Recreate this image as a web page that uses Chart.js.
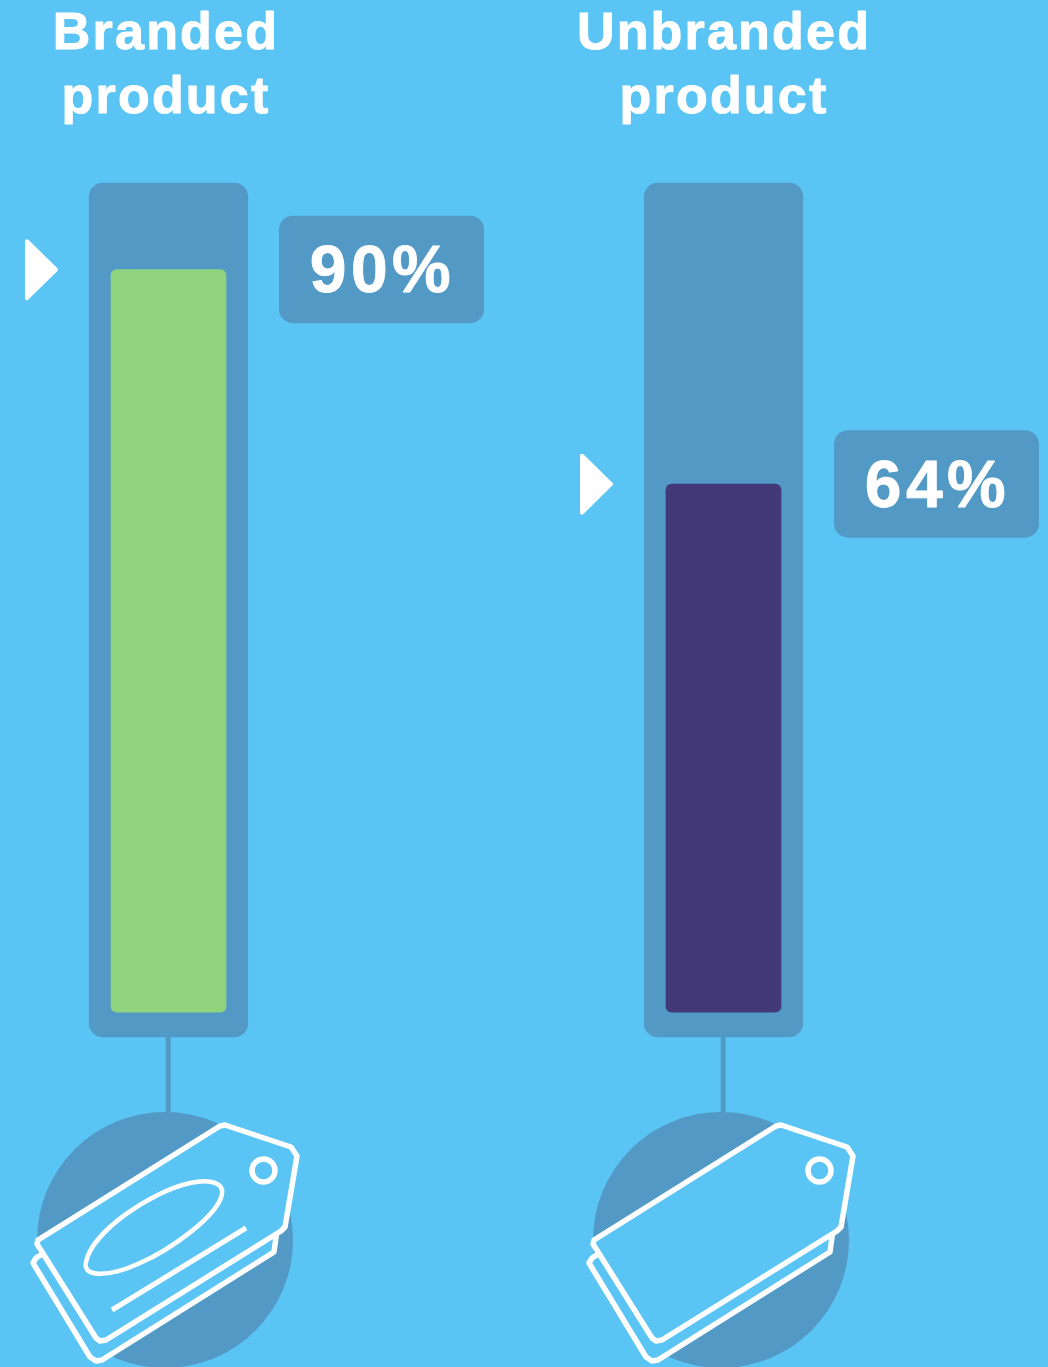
<!DOCTYPE html>
<html>
<head>
<meta charset="utf-8">
<title>Branded vs unbranded product</title>
<script src="https://cdn.jsdelivr.net/npm/chart.js@4/dist/chart.umd.min.js"></script>
<style>
  html, body { margin: 0; padding: 0; background: #5ac4f4; }
  canvas { display: block; }
</style>
</head>
<body>
<canvas id="chart-products" width="1048" height="1367"></canvas>
<script>
const labels = [['Branded', 'product'], ['Unbranded', 'product']];
const shares = [90, 64];
const trackRange = [-3, 100.5];
const barColors = ['#90d37f', '#433878'];

const background = '#5ac4f4';
const muted = '#529ac5';
const white = '#ffffff';
const font = '"Liberation Sans", Arial, sans-serif';

// offset of the right-hand column's icon from the left-hand one
const iconShift = [0, 556];
const titleNudge = [-2.5, 0.5];

function roundedBox(ctx, x, y, w, h, r) {
  ctx.beginPath();
  ctx.roundRect(x, y, w, h, r);
  ctx.fill();
}

function polyline(ctx, pts) {
  ctx.beginPath();
  pts.forEach(([x, y], i) => i ? ctx.lineTo(x, y) : ctx.moveTo(x, y));
}

// filled text with a thin outline so the glyphs carry the heavier weight
function heavyText(ctx, text, x, y, weight) {
  ctx.lineWidth = weight;
  ctx.lineJoin = 'round';
  ctx.strokeText(text, x, y);
  ctx.fillText(text, x, y);
}

function drawTag(ctx, index, dx) {
  ctx.save();
  ctx.translate(dx, 0);

  ctx.fillStyle = muted;
  ctx.beginPath();
  ctx.arc(165, 1240, 128, 0, Math.PI * 2);
  ctx.fill();

  ctx.strokeStyle = white;
  ctx.fillStyle = background;
  ctx.lineWidth = 5.5;
  ctx.lineJoin = 'round';
  ctx.lineCap = 'butt';

  // back tag
  polyline(ctx, [[42, 1254], [36, 1258], [33, 1263], [90, 1357], [96, 1361], [102, 1360], [274, 1252], [277, 1230]]);
  ctx.fill();
  ctx.stroke();

  // front tag
  polyline(ctx, [[38, 1240], [220, 1126], [225, 1125], [291, 1147], [297, 1156], [285, 1227], [281, 1231],
    [106, 1340], [100, 1341], [96, 1338], [37, 1244]]);
  ctx.closePath();
  ctx.fill();
  ctx.stroke();

  ctx.beginPath();
  ctx.arc(263.5, 1170.5, 11.5, 0, Math.PI * 2);
  ctx.stroke();

  // only the branded tag carries a label
  if (index === 0) {
    ctx.lineWidth = 4.5;
    ctx.beginPath();
    ctx.moveTo(86, 1262);
    ctx.bezierCurveTo(92, 1232, 150, 1192, 190, 1183);
    ctx.bezierCurveTo(212, 1178, 224, 1184, 222, 1194);
    ctx.bezierCurveTo(218, 1216, 170, 1250, 140, 1263);
    ctx.bezierCurveTo(110, 1277, 82, 1278, 86, 1262);
    ctx.closePath();
    ctx.stroke();

    ctx.lineWidth = 5;
    ctx.beginPath();
    ctx.moveTo(112, 1310);
    ctx.lineTo(246, 1228);
    ctx.stroke();
  }
  ctx.restore();
}

const decorations = {
  id: 'decorations',
  afterDatasetsDraw(chart) {
    const { ctx, scales: { x, y } } = chart;
    const base = y.getPixelForValue(trackRange[0]);

    shares.forEach((share, i) => {
      const cx = x.getPixelForValue(i);
      const top = y.getPixelForValue(share);

      // stem between the track and the icon
      ctx.fillStyle = muted;
      ctx.fillRect(cx - 2.8, base, 5, 76);
      drawTag(ctx, i, iconShift[i]);

      // marker at the bar's height
      ctx.fillStyle = white;
      ctx.strokeStyle = white;
      ctx.lineWidth = 4;
      ctx.lineJoin = 'round';
      polyline(ctx, [[cx - 141.5, top - 28.5], [cx - 112.5, top], [cx - 141.5, top + 28.5]]);
      ctx.closePath();
      ctx.fill();
      ctx.stroke();

      // value badge
      ctx.fillStyle = muted;
      roundedBox(ctx, cx + 110.5, top - 54, 205, 107.5, 14);
      ctx.fillStyle = white;
      ctx.font = 'bold 66px ' + font;
      ctx.letterSpacing = '4.5px';
      ctx.textAlign = 'center';
      ctx.textBaseline = 'alphabetic';
      heavyText(ctx, share + '%', cx + 214, top + 22.5, 0.8);

      // category title
      ctx.font = 'bold 52px ' + font;
      ctx.letterSpacing = '2.2px';
      labels[i].forEach((line, n) => {
        heavyText(ctx, line, cx + titleNudge[i], 49 + n * 64, 1);
      });
      ctx.letterSpacing = '0px';
    });
  }
};

const data = {
  labels: labels,
  datasets: [
    {
      label: 'Share',
      data: shares,
      backgroundColor: barColors,
      barThickness: 115,
      borderRadius: 6,
      borderSkipped: false,
      clip: false,
      order: 0
    },
    {
      label: 'Track',
      data: shares.map(() => trackRange),
      backgroundColor: muted,
      barThickness: 158.5,
      borderRadius: 14,
      borderSkipped: false,
      clip: false,
      order: 1
    }
  ]
};

new Chart(document.getElementById('chart-products'), {
  type: 'bar',
  data: data,
  plugins: [decorations],
  options: {
    responsive: false,
    animation: false,
    layout: { padding: { left: 168.5, right: 324.5, top: 183, bottom: 330 } },
    datasets: { bar: { grouped: false } },
    plugins: {
      legend: { display: false },
      title: { display: false },
      tooltip: { enabled: false }
    },
    scales: {
      x: { display: false, offset: false, grid: { display: false } },
      y: { display: false, min: trackRange[0], max: trackRange[1], grid: { display: false } }
    }
  }
});
</script>
</body>
</html>
